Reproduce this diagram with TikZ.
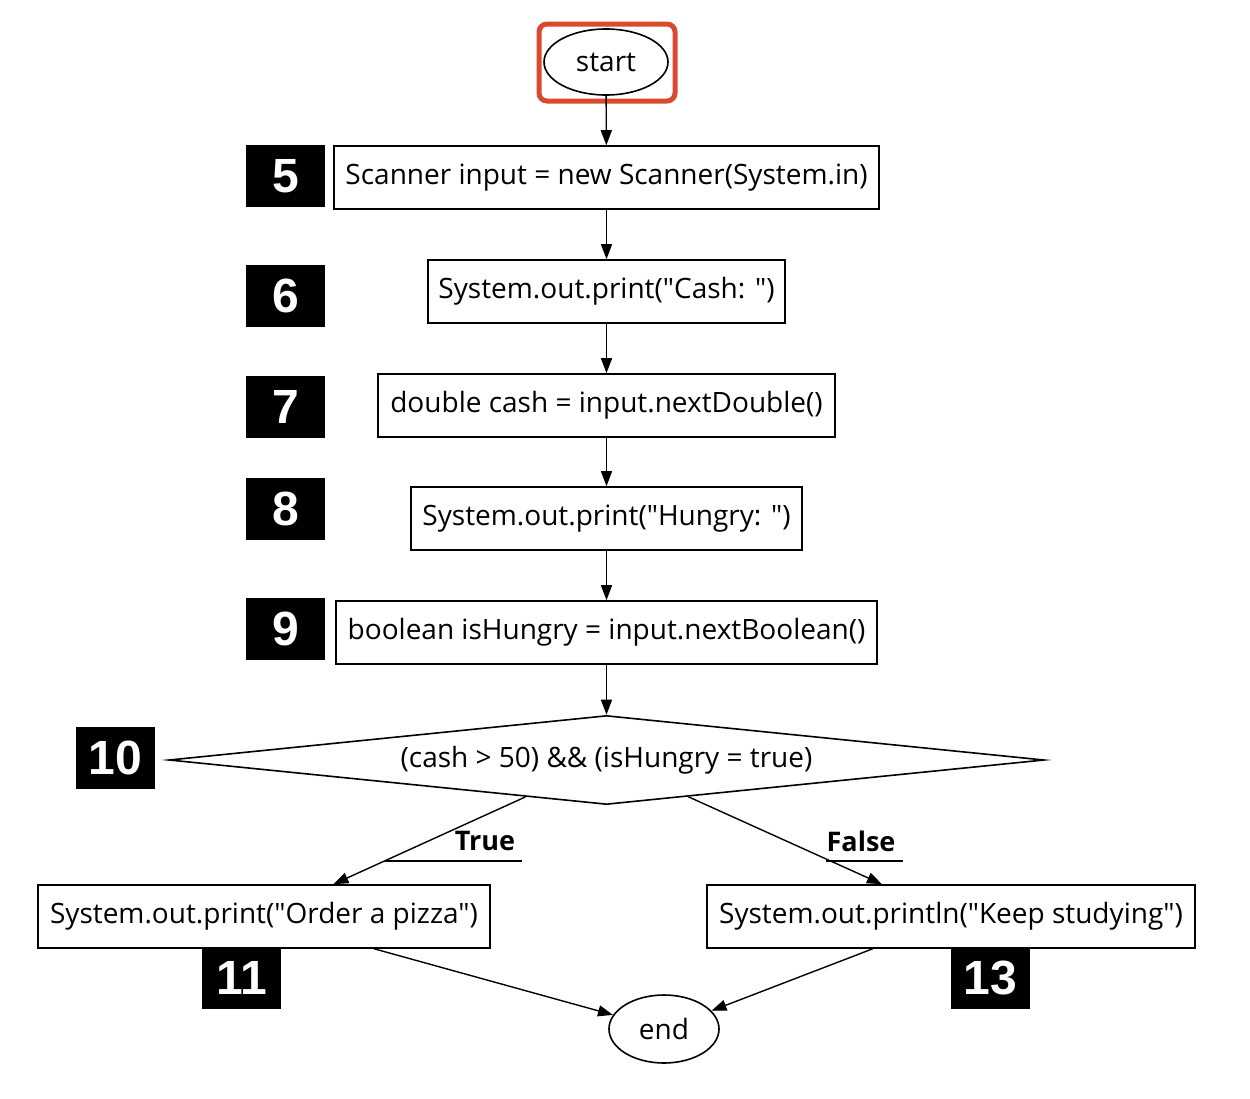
\documentclass[tikz,border=0pt]{standalone}
\usepackage{fontspec}
\setmainfont{Open Sans}[Ligatures=TeXOff]
\newfontfamily\badgefont{Liberation Sans}
\usetikzlibrary{shapes.geometric,arrows.meta,calc}
\definecolor{hlred}{HTML}{DA4A2E}
\newcommand{\dq}{\char34\relax}
\begin{document}
\begin{tikzpicture}[x=1pt,y=-1pt,
  every node/.style={font=\fontsize{28}{32}\selectfont, inner sep=0pt},
  stepbox/.style={draw, line width=1.6pt, rectangle, minimum height=63pt},
  term/.style={draw, line width=1.6pt, ellipse},
  badge/.style={fill=black, text=white, minimum width=79pt, minimum height=62pt, font=\badgefont\bfseries\fontsize{48}{52}\selectfont},
  edge/.style={line width=1.4pt, -{Triangle[length=15pt,width=11pt]}},
  lbl/.style={font=\bfseries\fontsize{27}{30}\selectfont}]
\useasboundingbox (0,0) rectangle (1250,1098);
\node[term, minimum width=124pt, minimum height=66pt] (start) at (606,62) {start};
\node[draw=hlred, line width=5pt, rounded corners=8pt, minimum width=136pt, minimum height=77pt] (hl) at (607,62.5) {};
\node[stepbox, minimum width=545pt] (n5) at (606.5,177.5) {Scanner input = new Scanner(System.in)};
\node[stepbox, minimum width=357pt] (n6) at (606.5,291.5) {System.out.print(\dq Cash: \dq)};
\node[stepbox, minimum width=457pt] (n7) at (606.5,405.5) {double cash = input.nextDouble()};
\node[stepbox, minimum width=391pt] (n8) at (606.5,518.5) {System.out.print(\dq Hungry: \dq)};
\node[stepbox, minimum width=541pt] (n9) at (606.5,632.5) {boolean isHungry = input.nextBoolean()};
\node[draw, line width=1.6pt, diamond, aspect=9.74, minimum width=875pt, minimum height=89pt] (d) at (606.5,760) {(cash > 50) \&\& (isHungry = true)};
\node[stepbox, minimum width=452pt] (n11) at (264,916.5) {System.out.print(\dq Order a pizza\dq)};
\node[stepbox, minimum width=488pt] (n13) at (951,916.5) {System.out.println(\dq Keep studying\dq)};
\node[term, minimum width=110pt, minimum height=68pt] (end) at (664,1029) {end};
\node[badge] (b5) at (285.5,176) {5};
\node[badge] (b6) at (285.5,296) {6};
\node[badge] (b7) at (285.5,407) {7};
\node[badge] (b8) at (285.5,509) {8};
\node[badge] (b9) at (285.5,629) {9};
\node[badge] (b10) at (115.5,758) {10};
\node[badge] (b11) at (241.5,978) {11};
\node[badge] (b13) at (990.5,978) {13};
\draw[edge] (start) -- (n5);
\draw[edge] (n5) -- (n6);
\draw[edge] (n6) -- (n7);
\draw[edge] (n7) -- (n8);
\draw[edge] (n8) -- (n9);
\draw[edge] (n9) -- (d);
\coordinate (dl) at ($(d.south)!0.185!(d.west)$);
\coordinate (dr) at ($(d.south)!0.187!(d.east)$);
\coordinate (t11) at ($(n11.north west)!0.653!(n11.north east)$);
\coordinate (t13) at ($(n13.north west)!0.359!(n13.north east)$);
\draw[edge] (dl) -- (t11);
\draw[edge] (dr) -- (t13);
\node[lbl] (lt) at (485,841) {True};
\node[lbl] (lf) at (861,841) {False};
\draw[line width=1.2pt] (385,861) -- (522,861);
\draw[line width=1.2pt] (826,861) -- (903,861);
\coordinate (s11) at ($(n11.south west)!0.743!(n11.south east)$);
\coordinate (s13) at ($(n13.south west)!0.340!(n13.south east)$);
\draw[edge] (s11) -- (end);
\draw[edge] (s13) -- (end);
\end{tikzpicture}
\end{document}
